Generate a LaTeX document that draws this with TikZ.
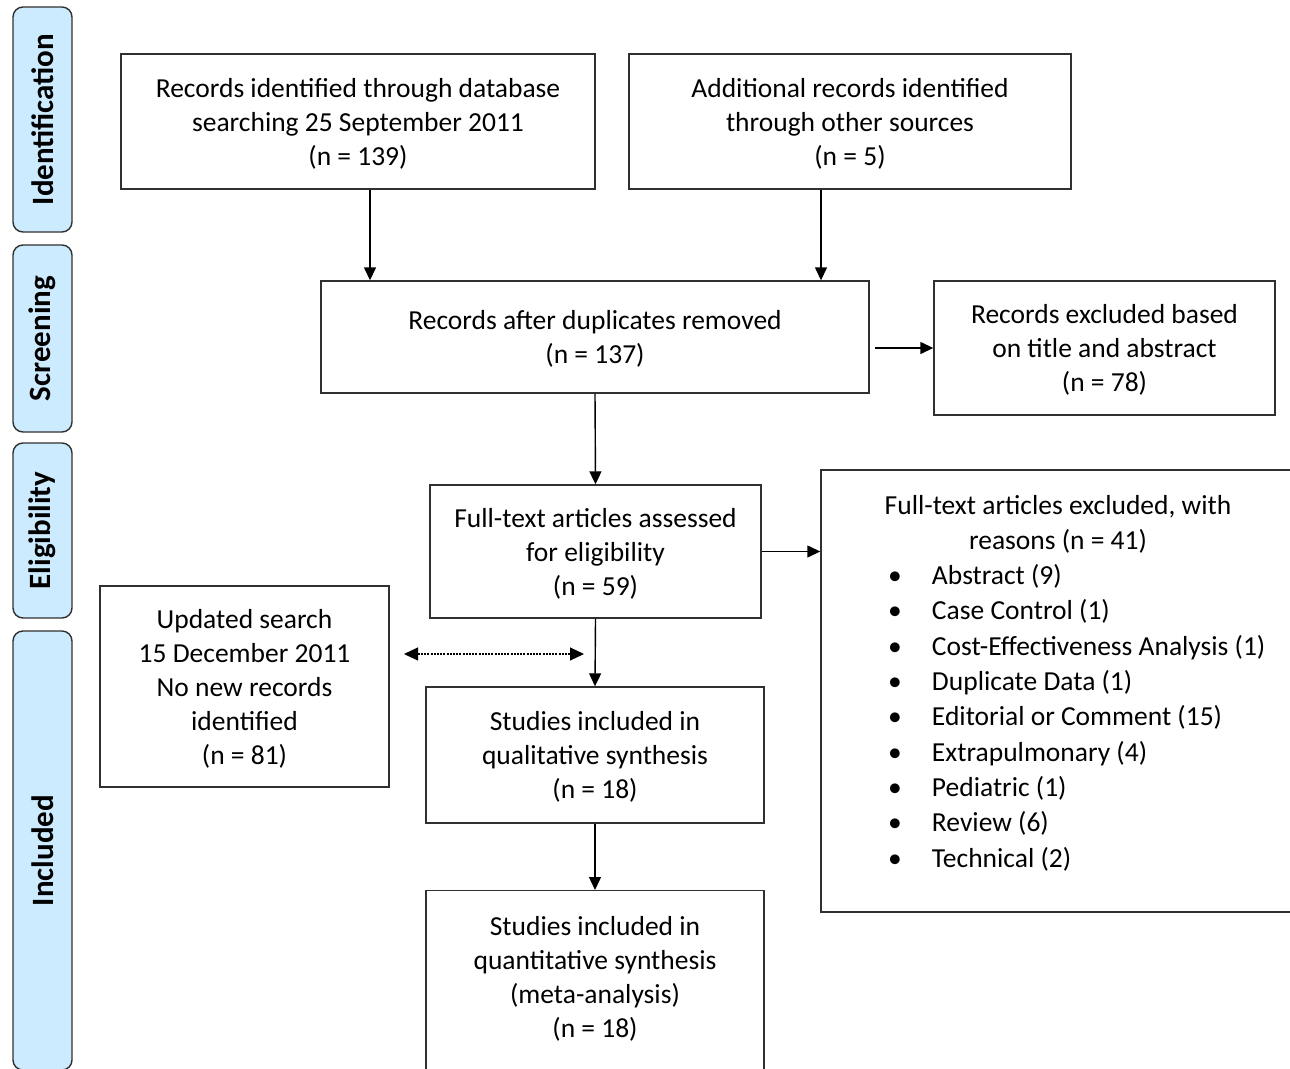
\documentclass[tikz,border=0pt]{standalone}
\usepackage{fontspec}
\setmainfont{Carlito}
\usetikzlibrary{arrows.meta}

\definecolor{stagefill}{HTML}{CCEBFF}
\definecolor{boxline}{HTML}{303030}

\tikzset{
	box/.style={draw=boxline, line width=1.4pt, align=center, inner sep=0pt,
		font=\fontsize{27.5}{34}\selectfont, text depth=-2pt},
	stage/.style={draw=boxline, fill=stagefill, line width=1.4pt, rounded corners=10pt,
		rotate=90, inner sep=0pt, font=\bfseries\fontsize{31}{34}\selectfont},
	flow/.style={-{Triangle[length=13pt,width=12pt]}, line width=1.4pt, draw=black},
	dotflow/.style={{Triangle[length=14pt,width=13pt]}-{Triangle[length=14pt,width=13pt]},
		line width=1.1pt, dash pattern=on 2pt off 1.2pt},
}

\begin{document}
\begin{tikzpicture}[x=1pt, y=-1pt]
	
	\clip (0,0) rectangle (1290,1068);
	\fill[white] (0,0) rectangle (1290,1068);
	
	% stages on the left
	\node [stage, minimum width=225, minimum height=59] (sIdent) at (42.5,119.5) {Identification};
	\node [stage, minimum width=187, minimum height=59] (sScreen) at (42.5,338.5) {Screening};
	\node [stage, minimum width=175, minimum height=59] (sElig) at (42.5,530.5) {Eligibility};
	\node [stage, minimum width=439, minimum height=59] (sIncl) at (42.5,850.5) {Included};
	
	% identification
	\node [box, minimum width=474, minimum height=135] (ident) at (358,121.5)
		{Records identified through database\\ searching 25 September 2011\\ (n = 139)};
	\node [box, minimum width=442, minimum height=135] (other) at (850,121.5)
		{Additional records identified\\ through other sources\\ (n = 5)};
	
	% screening
	\node [box, minimum width=548, minimum height=112] (dedup) at (595,337)
		{Records after duplicates removed\\ (n = 137)};
	\node [box, minimum width=341, minimum height=134] (excl) at (1104.5,348)
		{Records excluded based\\ on title and abstract\\ (n = 78)};
	
	\draw [flow] ([xshift=12pt]ident.south) -- ([xshift=12pt]ident.south |- dedup.north);
	\draw [flow] ([xshift=-29pt]other.south) -- ([xshift=-29pt]other.south |- dedup.north);
	\draw [flow] ([xshift=5pt]dedup.east |- excl.west) -- (excl.west);
	
	% eligibility
	\node [box, minimum width=331, minimum height=133] (fulltext) at (595.5,551.5)
		{Full-text articles assessed\\ for eligibility\\ (n = 59)};
	\node [box, minimum width=474, minimum height=442, text width=420pt, align=left,
		text height=0pt, text depth=354pt,
		font=\fontsize{27.5}{35.3}\selectfont] (reasons) at (1058,691)
		{\spaceskip=0pt \xspaceskip=0pt
		\centering Full-text articles excluded, with\\ reasons (n = 41)\par
		\raggedright
		\hspace*{40pt}\makebox[44pt][l]{\textbullet}Abstract (9)\\
		\hspace*{40pt}\makebox[44pt][l]{\textbullet}Case Control (1)\\
		\hspace*{40pt}\makebox[44pt][l]{\textbullet}Cost-Effectiveness Analysis (1)\\
		\hspace*{40pt}\makebox[44pt][l]{\textbullet}Duplicate Data (1)\\
		\hspace*{40pt}\makebox[44pt][l]{\textbullet}Editorial or Comment (15)\\
		\hspace*{40pt}\makebox[44pt][l]{\textbullet}Extrapulmonary (4)\\
		\hspace*{40pt}\makebox[44pt][l]{\textbullet}Pediatric (1)\\
		\hspace*{40pt}\makebox[44pt][l]{\textbullet}Review (6)\\
		\hspace*{40pt}\makebox[44pt][l]{\textbullet}Technical (2)};
	
	\draw [flow] (dedup.south) -- (fulltext.north);
	\draw [flow] (fulltext.east) -- (reasons.west |- fulltext.east);
	
	% included
	\node [box, minimum width=289, minimum height=201] (updated) at (244.5,686.5)
		{Updated search\\ 15 December 2011\\ No new records\\ identified\\ (n = 81)};
	\node [box, minimum width=338, minimum height=136] (qual) at (595,755)
		{Studies included in\\ qualitative synthesis\\ (n = 18)};
	\node [box, minimum width=338, minimum height=220, anchor=north] (quant) at (595,890) {};
	\node [box, draw=none] (quanttxt) at (595,976.5)
		{Studies included in\\ quantitative synthesis\\ (meta-analysis)\\ (n = 18)};
	
	\draw [flow] (fulltext.south) -- (qual.north);
	\draw [flow] (qual.south) -- (quant.north);
	
	\coordinate (dotL) at (404,654);
	\coordinate (dotR) at (584,654);
	\draw [dotflow] (dotL) -- (dotR);
	
\end{tikzpicture}
\end{document}
